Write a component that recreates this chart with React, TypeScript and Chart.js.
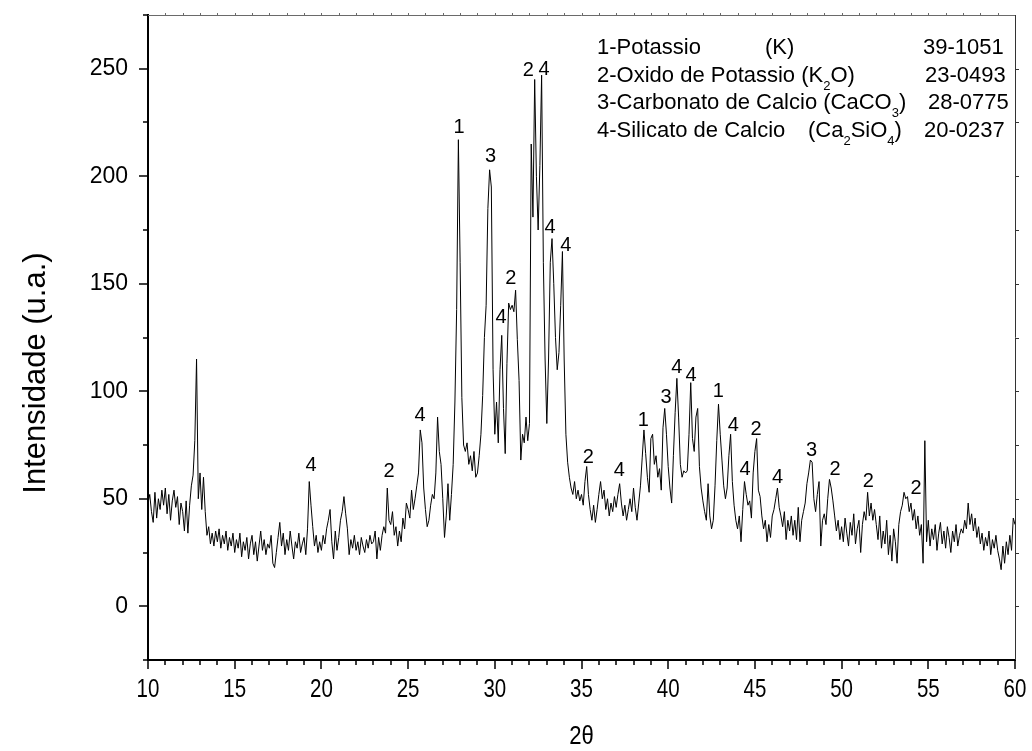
import React, { useEffect, useRef } from "react";
import { Chart, registerables } from "chart.js";

Chart.register(...registerables);

// 2θ sampling grid: start and step (degrees)
const angleStart = 10;
const angleStep = 0.1;

const counts10s = [
  48, 52, 44, 39, 53, 41, 50, 45, 54, 47,
  55, 43, 52, 40, 49, 54, 46, 51, 38, 48,
  44, 35, 49, 34, 47, 56, 61, 77, 115, 50,
  62, 45, 60, 44, 33, 37, 29, 34, 28, 35,
  30, 36, 27, 33, 29, 35, 26, 32, 28, 34,
  25, 31, 27, 34, 23, 30, 26, 32, 22, 29,
  33, 24, 30, 21, 28, 35, 26, 31, 24, 29,
  27, 33, 20, 18, 25, 32, 39, 28, 34, 24,
  31, 26, 35, 28, 22, 30, 27, 34, 25, 29,
  32, 24, 36, 58, 47, 37, 28, 33, 25, 30,
];
const counts20s = [
  26, 33, 29, 36, 40, 45, 30, 22, 35, 26,
  32, 40, 44, 51, 43, 36, 24, 31, 27, 33,
  26, 30, 24, 32, 28, 25, 31, 27, 33, 29,
  30, 35, 22, 32, 26, 33, 37, 34, 55, 40,
  38, 44, 33, 37, 28, 35, 30, 41, 36, 48,
  45, 41, 54, 45, 50, 56, 62, 82, 76, 55,
  45, 37, 40, 47, 52, 50, 62, 88, 72, 66,
  50, 32, 42, 57, 40, 52, 66, 95, 138, 217,
  160, 97, 75, 72, 76, 66, 70, 63, 72, 60,
  62, 70, 80, 98, 125, 140, 185, 203, 195, 110,
];
const counts30s = [
  80, 95, 76, 110, 126, 92, 71, 113, 141, 138,
  140, 137, 147, 124, 105, 68, 80, 76, 88, 77,
  85, 215, 181, 245, 200, 175, 205, 247, 160, 115,
  85, 115, 160, 171, 150, 125, 110, 118, 140, 165,
  115, 80, 67, 60, 55, 52, 58, 50, 54, 49,
  52, 47, 58, 65, 52, 45, 40, 47, 39, 45,
  52, 58, 50, 54, 45, 50, 42, 48, 44, 51,
  46, 52, 57, 48, 42, 47, 40, 45, 50, 44,
  55, 46, 40, 48, 56, 69, 82, 71, 60, 53,
  78, 80, 66, 70, 60, 64, 54, 83, 92, 80,
];
const counts40s = [
  65, 55, 48, 70, 90, 106, 88, 66, 60, 63,
  62, 63, 80, 104, 78, 72, 88, 92, 65, 55,
  49, 44, 40, 57, 42, 36, 40, 56, 77, 94,
  80, 68, 56, 50, 55, 70, 80, 58, 47, 40,
  36, 42, 30, 45, 58, 52, 47, 49, 41, 62,
  72, 78, 54, 51, 42, 36, 40, 30, 38, 32,
  42, 45, 50, 55, 46, 42, 37, 44, 31, 40,
  35, 42, 33, 40, 31, 46, 30, 40, 44, 48,
  57, 62, 68, 67, 50, 44, 52, 58, 28, 40,
  43, 38, 50, 59, 55, 49, 42, 35, 40, 31,
];
const counts50s = [
  37, 30, 41, 34, 28, 39, 33, 43, 29, 36,
  40, 25, 38, 44, 40, 53, 42, 48, 40, 45,
  38, 31, 42, 27, 35, 29, 40, 24, 33, 21,
  36, 30, 20, 38, 44, 47, 53, 50, 51, 44,
  48, 40, 45, 36, 42, 33, 38, 20, 77, 30,
  40, 28, 36, 31, 38, 26, 34, 39, 29, 35,
  27, 37, 32, 25, 35, 30, 38, 28, 33, 36,
  34, 40, 36, 48, 38, 43, 35, 41, 32, 37,
  29, 34, 26, 32, 28, 35, 24, 31, 27, 33,
  26, 22, 17, 28, 20, 30, 24, 33, 26, 41,
  38,
];

const xTickValues = [10, 15, 20, 25, 30, 35, 40, 45, 50, 55, 60];
const yTickValues = [0, 50, 100, 150, 200, 250];

// Phase marks above the peaks
const peakMarkAngle = [19.40, 23.90, 25.69, 27.94, 29.76, 30.36, 30.93, 31.93, 32.84, 33.18, 34.09, 35.39, 37.18, 38.57, 39.87, 40.49, 41.32, 42.89, 43.76, 44.43, 45.06, 46.31, 48.27, 49.62, 51.54, 54.29];
const peakMarkHeight = [65.6, 62.8, 88.8, 222.8, 209, 134.4, 152.6, 249.3, 249.6, 176.4, 167.9, 69.4, 63.3, 86.5, 97.3, 111, 107.4, 99.7, 84.2, 63.6, 82.2, 59.9, 72.6, 63.7, 57.8, 54.7];
const peakMarkPhase = ["4", "2", "4", "1", "3", "4", "2", "2", "4", "4", "4", "2", "4", "1", "3", "4", "4", "1", "4", "4", "2", "4", "3", "2", "2", "2"];

// Phase key (top right): name, formula pieces [text, subscript], JCPDS card
const phaseNames = ["1-Potassio", "2-Oxido de Potassio", "3-Carbonato de Calcio", "4-Silicato de Calcio"];
const phaseFormulas: [string, string][][] = [
  [["(K)", ""]],
  [["(K", ""], ["2", "sub"], ["O)", ""]],
  [["(CaCO", ""], ["3", "sub"], [")", ""]],
  [["(Ca", ""], ["2", "sub"], ["SiO", ""], ["4", "sub"], [")", ""]],
];
const phaseCards = ["39-1051", "23-0493", "28-0775", "20-0237"];

const xAxisTitle = "2θ";
const yAxisTitle = "Intensidade (u.a.)";

const FONT = '"Liberation Sans", Arial, Helvetica, sans-serif';

const decor = {
  id: "decor",
  afterDraw(chart: any) {
    const { ctx, chartArea: a, scales } = chart;
    const xs = scales.x;
    const ys = scales.y;
    ctx.save();

    // top frame line with tiny ticks
    ctx.strokeStyle = "#6a6a6a";
    ctx.lineWidth = 1;
    ctx.beginPath();
    ctx.moveTo(a.left, a.top + 0.5);
    ctx.lineTo(a.right, a.top + 0.5);
    for (let v = 11; v < 60; v++) {
      const px = Math.round(xs.getPixelForValue(v)) + 0.5;
      ctx.moveTo(px, a.top);
      ctx.lineTo(px, a.top - 2);
    }
    ctx.stroke();

    // right frame line with small outward ticks
    ctx.strokeStyle = "#333";
    ctx.beginPath();
    ctx.moveTo(a.right + 0.5, a.top);
    ctx.lineTo(a.right + 0.5, a.bottom);
    for (let v = 0; v <= 250; v += 25) {
      const py = Math.round(ys.getPixelForValue(v)) + 0.5;
      ctx.moveTo(a.right, py);
      ctx.lineTo(a.right + 4, py);
    }
    ctx.stroke();

    // bottom ticks
    ctx.strokeStyle = "#000";
    ctx.lineWidth = 1.5;
    ctx.beginPath();
    for (let v = 10; v <= 60; v++) {
      const px = Math.round(xs.getPixelForValue(v));
      const len = v % 5 === 0 ? 9 : 5;
      ctx.moveTo(px, a.bottom);
      ctx.lineTo(px, a.bottom + len);
    }
    // left ticks
    for (let v = -25; v <= 275; v += 25) {
      const py = Math.round(ys.getPixelForValue(v));
      const len = v % 50 === 0 ? 9 : 5;
      ctx.moveTo(a.left, py);
      ctx.lineTo(a.left - len, py);
    }
    ctx.stroke();

    ctx.fillStyle = "#000";
    ctx.textAlign = "center";
    ctx.textBaseline = "middle";

    // x tick labels (narrow face)
    ctx.font = `25px ${FONT}`;
    for (const v of xTickValues) {
      ctx.save();
      ctx.translate(xs.getPixelForValue(v), 690);
      ctx.scale(0.82, 1);
      ctx.fillText(String(v), 0, 0);
      ctx.restore();
    }

    // axis titles
    ctx.save();
    ctx.translate((a.left + a.right) / 2, 737);
    ctx.scale(0.85, 1);
    ctx.font = `26px ${FONT}`;
    ctx.fillText(xAxisTitle, 0, 0);
    ctx.restore();

    ctx.save();
    ctx.translate(36, 373);
    ctx.rotate(-Math.PI / 2);
    ctx.font = `31px ${FONT}`;
    ctx.fillText(yAxisTitle, 0, 0);
    ctx.restore();

    // peak phase marks
    ctx.font = `20px ${FONT}`;
    for (let i = 0; i < peakMarkAngle.length; i++) {
      ctx.fillText(peakMarkPhase[i], xs.getPixelForValue(peakMarkAngle[i]), ys.getPixelForValue(peakMarkHeight[i]));
    }

    // phase key
    ctx.textAlign = "left";
    ctx.textBaseline = "alphabetic";
    const keyX = 597;
    const base = [54, 82, 109, 137];
    const formulaX = [765, -1, -1, 808];
    const cardX = [923, 925, 928, 924];
    for (let r = 0; r < phaseNames.length; r++) {
      ctx.font = `22px ${FONT}`;
      ctx.fillText(phaseNames[r], keyX, base[r]);
      let fx = formulaX[r] >= 0 ? formulaX[r] : keyX + ctx.measureText(phaseNames[r] + " ").width;
      for (const [txt, kind] of phaseFormulas[r]) {
        if (kind === "sub") {
          ctx.font = `13px ${FONT}`;
          ctx.fillText(txt, fx, base[r] + 8);
        } else {
          ctx.font = `22px ${FONT}`;
          ctx.fillText(txt, fx, base[r]);
        }
        fx += ctx.measureText(txt).width;
      }
      ctx.font = `22px ${FONT}`;
      ctx.fillText(phaseCards[r], cardX[r], base[r]);
    }
    ctx.restore();
  },
};

export default function App() {
  const ref = useRef<HTMLCanvasElement>(null);
  useEffect(() => {
    const counts = [...counts10s, ...counts20s, ...counts30s, ...counts40s, ...counts50s];
    const points = counts.map((v, i) => ({ x: +(angleStart + i * angleStep).toFixed(2), y: v }));
    const chart = new Chart(ref.current as HTMLCanvasElement, {
      type: "line",
      data: {
        datasets: [
          {
            data: points,
            borderColor: "#000",
            borderWidth: 1,
            pointRadius: 0,
            tension: 0,
            fill: false,
          },
        ],
      },
      options: {
        responsive: false,
        animation: false,
        devicePixelRatio: 1,
        layout: { padding: { top: 15, right: 17, left: 0, bottom: 0 } },
        plugins: { legend: { display: false }, tooltip: { enabled: false } },
        scales: {
          x: {
            type: "linear",
            min: 10,
            max: 60,
            afterBuildTicks: (s: any) => {
              s.ticks = xTickValues.map((v) => ({ value: v }));
            },
            afterFit: (s: any) => {
              s.height = 91;
              s.paddingLeft = 0;
              s.paddingRight = 0;
            },
            grid: { display: false, drawTicks: false },
            border: { display: true, color: "#000", width: 2 },
            ticks: { display: false },
          },
          y: {
            type: "linear",
            min: -25,
            max: 275,
            afterBuildTicks: (s: any) => {
              s.ticks = yTickValues.map((v) => ({ value: v }));
            },
            afterFit: (s: any) => {
              s.width = 148;
              s.paddingTop = 0;
              s.paddingBottom = 0;
            },
            grid: { display: false, drawTicks: false },
            border: { display: true, color: "#000", width: 2 },
            ticks: {
              padding: 20,
              color: "#000",
              autoSkip: false,
              font: { family: FONT, size: 23 },
            },
          },
        },
      },
      plugins: [decor],
    });
    return () => chart.destroy();
  }, []);
  return (
    <div style={{ position: "absolute", left: 0, top: 0, width: 1032, height: 751, background: "#fff" }}>
      <canvas ref={ref} width={1032} height={751} style={{ display: "block", width: 1032, height: 751 }} />
    </div>
  );
}
